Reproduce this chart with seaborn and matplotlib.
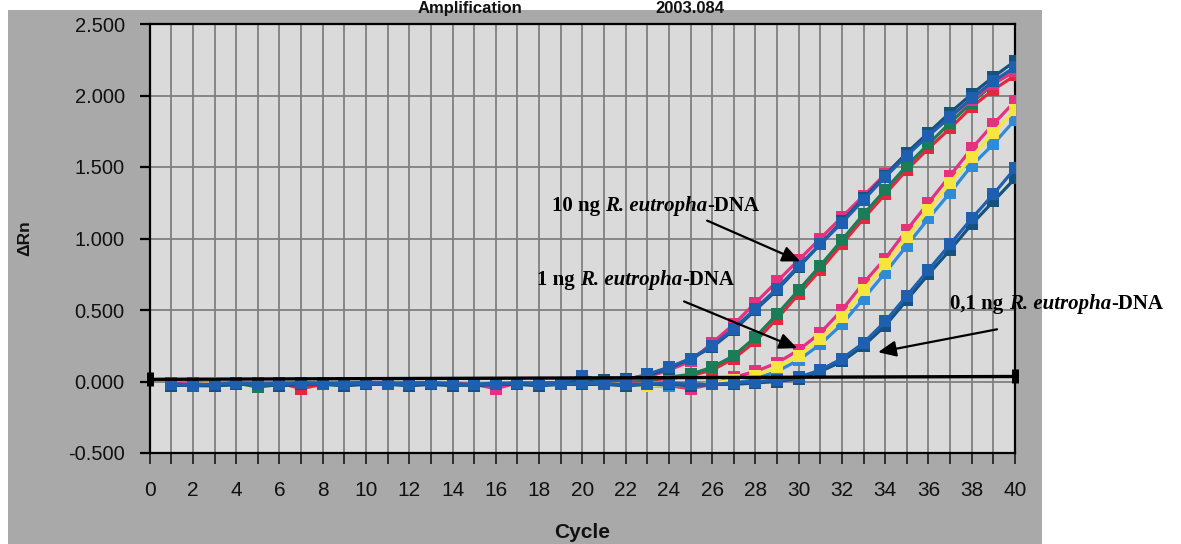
import numpy as np
import pandas as pd
import matplotlib
matplotlib.use("Agg")
import matplotlib.pyplot as plt
import seaborn as sns
from matplotlib.patches import Rectangle

# ---------------------------------------------------------------------------
# Data
# ---------------------------------------------------------------------------
cycles = list(range(1, 41))

# leftmost cluster
blue_a = [-0.02, -0.03, -0.03, -0.01, -0.02, -0.01, -0.02, -0.01, -0.01, -0.01,
          -0.01, -0.01, -0.01, -0.02, -0.02, -0.01, -0.02, -0.01, -0.01, 0.04,
          0.00, 0.01, 0.05, 0.10, 0.16, 0.25, 0.37, 0.51, 0.65, 0.81,
          0.96, 1.11, 1.27, 1.43, 1.58, 1.72, 1.85, 1.98, 2.10, 2.20]
magenta_a = [-0.01, -0.02, -0.02, -0.01, -0.01, -0.01, -0.01, -0.01, -0.02, -0.01,
             -0.01, -0.02, -0.01, -0.01, -0.02, -0.05, -0.01, -0.01, -0.02, 0.01,
             0.00, 0.01, 0.03, 0.08, 0.14, 0.27, 0.40, 0.55, 0.70, 0.85,
             1.00, 1.15, 1.30, 1.45, 1.59, 1.72, 1.85, 1.97, 2.08, 2.17]
teal_a = [-0.03, -0.02, -0.03, -0.02, -0.02, -0.02, -0.01, -0.02, -0.02, -0.01,
          -0.02, -0.01, -0.02, -0.03, -0.02, -0.02, -0.02, -0.02, -0.01, 0.01,
          0.01, 0.02, 0.04, 0.09, 0.16, 0.24, 0.36, 0.50, 0.64, 0.80,
          0.96, 1.12, 1.28, 1.44, 1.60, 1.74, 1.88, 2.01, 2.13, 2.24]

# second cluster
green_b = [-0.02, -0.01, -0.02, -0.01, -0.04, -0.02, -0.01, -0.02, -0.01, -0.01,
           -0.02, -0.01, -0.01, -0.02, -0.01, -0.02, -0.01, -0.01, -0.02, -0.01,
           0.00, 0.01, 0.01, 0.03, 0.05, 0.10, 0.18, 0.31, 0.47, 0.64,
           0.81, 0.99, 1.17, 1.34, 1.51, 1.66, 1.81, 1.95, 2.08, 2.19]
red_b = [-0.01, -0.02, -0.01, -0.02, -0.02, -0.01, -0.05, -0.02, -0.01, -0.02,
         -0.01, -0.02, -0.02, -0.01, -0.01, -0.02, -0.02, -0.01, -0.01, -0.02,
         -0.01, 0.00, 0.01, 0.02, 0.04, 0.08, 0.16, 0.28, 0.44, 0.61,
         0.78, 0.96, 1.14, 1.31, 1.48, 1.63, 1.77, 1.92, 2.04, 2.14]

# third cluster
magenta_c = [-0.02, -0.01, -0.02, -0.01, -0.02, -0.02, -0.01, -0.01, -0.02, -0.01,
             -0.01, -0.02, -0.01, -0.02, -0.01, -0.02, -0.01, -0.02, -0.01, -0.02,
             -0.01, -0.02, -0.02, -0.03, -0.05, -0.02, 0.03, 0.07, 0.13, 0.22,
             0.34, 0.50, 0.69, 0.86, 1.06, 1.25, 1.44, 1.63, 1.80, 1.96]
yellow_c = [-0.01, -0.02, -0.01, -0.02, -0.01, -0.01, -0.02, -0.01, -0.01, -0.02,
            -0.01, -0.01, -0.02, -0.01, -0.01, -0.01, -0.02, -0.01, -0.02, -0.01,
            -0.01, -0.02, -0.03, -0.02, -0.03, -0.01, 0.01, 0.04, 0.10, 0.18,
            0.30, 0.45, 0.64, 0.82, 1.01, 1.20, 1.39, 1.57, 1.74, 1.90]
lightblue_c = [-0.02, -0.02, -0.01, -0.02, -0.02, -0.01, -0.02, -0.02, -0.01, -0.02,
               -0.02, -0.01, -0.02, -0.02, -0.01, -0.02, -0.02, -0.02, -0.01, -0.02,
               -0.02, -0.02, -0.03, -0.03, -0.02, -0.02, 0.00, 0.02, 0.07, 0.15,
               0.26, 0.40, 0.58, 0.76, 0.95, 1.14, 1.32, 1.51, 1.66, 1.83]

# rightmost cluster
blue_d = [-0.02, -0.02, -0.02, -0.01, -0.02, -0.02, -0.01, -0.02, -0.02, -0.01,
          -0.02, -0.02, -0.01, -0.02, -0.02, -0.02, -0.01, -0.02, -0.02, -0.01,
          -0.02, -0.02, -0.02, -0.01, -0.02, -0.02, -0.01, 0.00, 0.01, 0.03,
          0.08, 0.16, 0.27, 0.42, 0.60, 0.78, 0.96, 1.14, 1.31, 1.49]
teal_d = [-0.03, -0.02, -0.03, -0.02, -0.02, -0.03, -0.02, -0.02, -0.03, -0.02,
          -0.02, -0.03, -0.02, -0.02, -0.03, -0.02, -0.02, -0.03, -0.02, -0.02,
          -0.02, -0.03, -0.02, -0.02, -0.03, -0.02, -0.02, -0.01, 0.00, 0.02,
          0.07, 0.14, 0.25, 0.39, 0.57, 0.75, 0.92, 1.10, 1.26, 1.42]

threshold_x = [0, 40]
threshold_y = [0.015, 0.035]

# draw order: bottom -> top
series = [
    ("red_b", red_b, "#e2283c"),
    ("green_b", green_b, "#1b7d57"),
    ("magenta_c", magenta_c, "#e6327e"),
    ("lightblue_c", lightblue_c, "#2f8bd6"),
    ("yellow_c", yellow_c, "#f4e63c"),
    ("magenta_a", magenta_a, "#e6327e"),
    ("teal_a", teal_a, "#15527d"),
    ("blue_a", blue_a, "#1f5faf"),
    ("teal_d", teal_d, "#15527d"),
    ("blue_d", blue_d, "#1f5faf"),
]

# ---------------------------------------------------------------------------
# Figure
# ---------------------------------------------------------------------------
sns.set_style("ticks")
plt.rcParams["font.family"] = ["Liberation Sans", "DejaVu Sans"]

W, H = 1181, 544
fig = plt.figure(figsize=(W / 100, H / 100), dpi=100, facecolor="white")

# scanned grey page
fig.patches.append(Rectangle((8 / W, 0), (1042 - 8) / W, (H - 10) / H,
                             transform=fig.transFigure, facecolor="#a9a9a9",
                             edgecolor="none", zorder=-2))

x0, x1, y_top, y_bot = 149.7, 1015.0, 24.0, 453.0
ax = fig.add_axes([x0 / W, (H - y_bot) / H, (x1 - x0) / W, (y_bot - y_top) / H])
ax.set_facecolor("#dadada")

for name, vals, col in series:
    sns.lineplot(x=cycles, y=vals, ax=ax, color=col, marker="s", markersize=8.5,
                 markeredgewidth=0, linewidth=2.3, zorder=3)

ax.plot(threshold_x, threshold_y, color="black", linewidth=2.4, zorder=5,
        marker="|", markersize=10, markeredgewidth=5, clip_on=False)

ax.set_xlim(0, 40)
ax.set_ylim(-0.5, 2.5)
ax.set_xticks(np.arange(0, 41, 2))
ax.set_xticks(np.arange(1, 40, 2), minor=True)
ax.set_yticks(np.arange(-0.5, 2.51, 0.5))
ax.set_yticklabels([f"{v:.3f}" for v in np.arange(-0.5, 2.51, 0.5)])
ax.set_xlabel("")
ax.set_ylabel("")

ax.grid(which="both", axis="x", color="#808080", linewidth=1.3)
ax.grid(which="major", axis="y", color="#808080", linewidth=1.3)
ax.set_axisbelow(True)

for s in ax.spines.values():
    s.set_color("black")
    s.set_linewidth(1.6)
    s.set_visible(True)

ax.tick_params(axis="x", which="both", direction="out", length=8, width=1.3,
               color="#222222", labelsize=15, pad=12, labelcolor="#111111")
ax.tick_params(axis="y", which="major", direction="out", length=7, width=1.6,
               color="black", labelsize=14.5, pad=11, labelcolor="#111111")

fig.text(25 / W, 1 - 238 / H, "ΔRn", rotation=90, fontsize=12.5,
         fontweight="bold", ha="center", va="center", color="#111111")
fig.text(582 / W, 1 - 533 / H, "Cycle", fontsize=15, fontweight="bold",
         ha="center", va="center", color="#111111")

# title strip at the top of the scan
fig.text(470 / W, 1 - 1 / H, "Amplification", fontsize=12, fontweight="bold",
         ha="center", va="top", color="#111111")
fig.text(690 / W, 1 - 1 / H, "2003.084", fontsize=12, fontweight="bold",
         ha="center", va="top", color="#111111")


# ---------------------------------------------------------------------------
# Annotations
# ---------------------------------------------------------------------------
def mixed_label(x, y, amount):
    kw = dict(fontsize=15, fontweight="bold", family=["Liberation Serif", "DejaVu Serif"],
              color="black", annotation_clip=False)
    t = ax.annotate(amount + " ", xy=(x, y), xycoords="data", ha="left", va="center", **kw)
    t = ax.annotate("R. eutropha", xy=(1, 0), xycoords=t, ha="left", va="bottom",
                    fontstyle="italic", **kw)
    ax.annotate("-DNA", xy=(1, 0), xycoords=t, ha="left", va="bottom", **kw)


def arrow(tail, tip):
    ax.annotate("", xy=tip, xytext=tail, xycoords="data", annotation_clip=False,
                arrowprops=dict(arrowstyle="-|>,head_length=0.9,head_width=0.4",
                                mutation_scale=12, color="black", lw=1.6,
                                shrinkA=0, shrinkB=0))


mixed_label(18.58, 1.23, "10 ng")
mixed_label(17.9, 0.707, "1 ng")
mixed_label(37.0, 0.54, "0,1 ng")

arrow((25.77, 1.125), (30.07, 0.84))
arrow((24.70, 0.56), (29.93, 0.233))
arrow((39.17, 0.365), (33.67, 0.205))

fig.savefig("out.png", dpi=100)
plt.close(fig)
print("Saved: out.png")
